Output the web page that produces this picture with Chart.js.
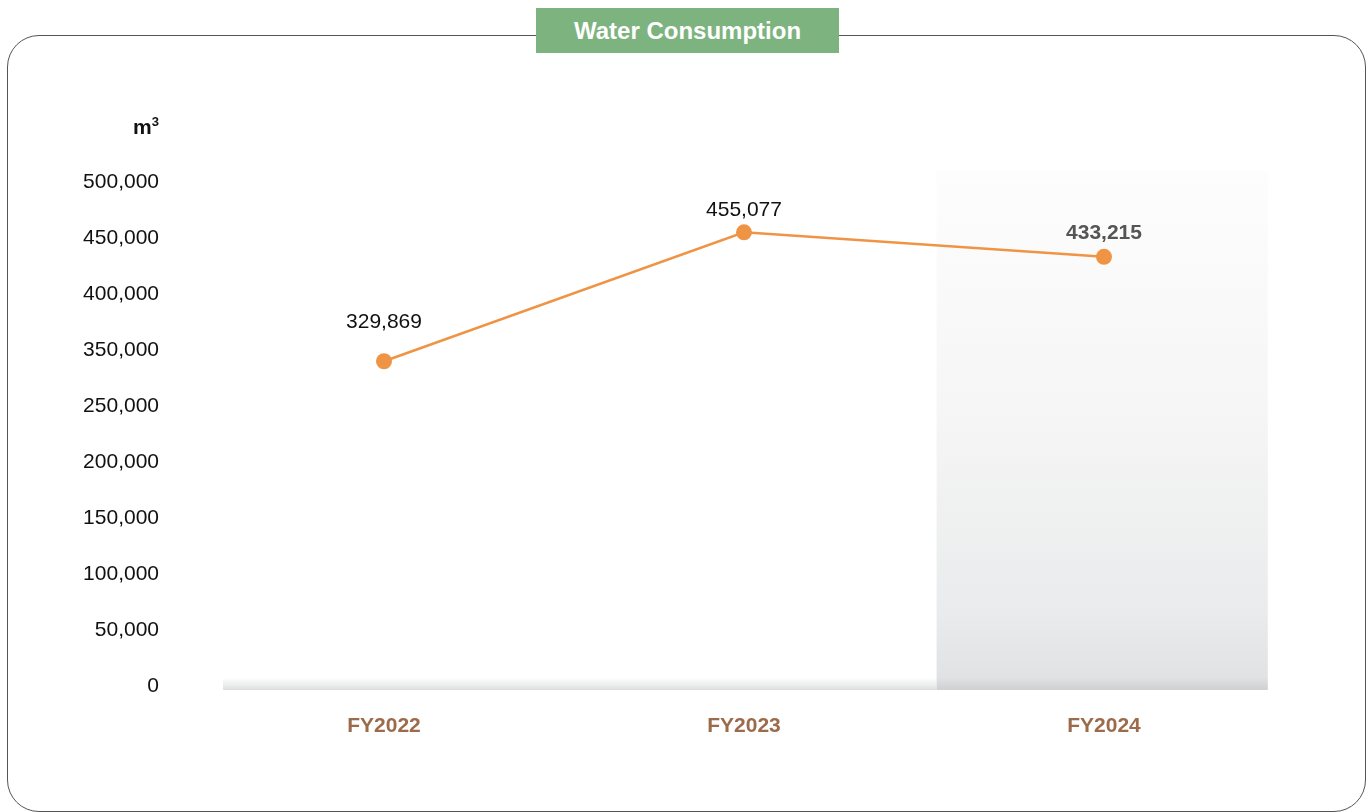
<!DOCTYPE html>
<html>
<head>
<meta charset="utf-8">
<script src="https://cdn.jsdelivr.net/npm/chart.js@4.4.1/dist/chart.umd.min.js"></script>
<style>
  html, body { margin: 0; padding: 0; background: #fff; }
  body { width: 1370px; height: 812px; position: relative; overflow: hidden; font-family: "Liberation Sans", Arial, Helvetica, sans-serif; }
  .frame { position: absolute; left: 7px; top: 35px; width: 1357px; height: 775px; border: 1px solid #555; border-radius: 32px; }
  .title { position: absolute; left: 536px; top: 8px; width: 303px; height: 45px; background: #7db37e; color: #fff; font-weight: bold; font-size: 24px; line-height: 45px; text-align: center; }
  #chart { position: absolute; left: 0; top: 0; }
</style>
</head>
<body>
<div class="frame"></div>
<canvas id="chart" width="1370" height="812"></canvas>
<div class="title">Water Consumption</div>
<script>
// data
var categories = ["FY2022", "FY2023", "FY2024"];
var consumption = [329869, 455077, 433215];
// the source axis skips 300,000: 250k -> 350k is squeezed into one step
var yTickLabels = ["0", "50,000", "100,000", "150,000", "200,000", "250,000",
  "350,000", "400,000", "450,000", "500,000"];
var yUnit = "m";
var yUnitSup = "3";

// styles kept apart from data
var lineColor = "#ef9445";
var labelOffsets = [39, 22, 24];
var labelFonts = ["normal 21px", "normal 21px", "bold 21px"];
var labelColors = ["#111", "#111", "#555"];
var highlightIndex = 2;
var fontFamily = '"Liberation Sans", Arial, Helvetica, sans-serif';

// value -> position on the broken axis
function axisPos(v) {
  if (v <= 250000) return v;
  if (v <= 350000) return 250000 + (v - 250000) / 2;
  return v - 50000;
}

var backdrop = {
  id: "backdrop",
  beforeDatasetsDraw: function (chart) {
    var ctx = chart.ctx;
    var area = chart.chartArea;
    var x = chart.scales.x;
    var step = x.getPixelForValue(1) - x.getPixelForValue(0);
    var cx = x.getPixelForValue(highlightIndex);
    var left = cx - step * 0.465;
    var right = cx + step * 0.455;
    var top = area.top - 11;
    var bottom = area.bottom + 4;
    ctx.save();
    // baseline band
    var g = ctx.createLinearGradient(0, bottom - 12, 0, bottom);
    g.addColorStop(0, "rgba(230,231,232,0)");
    g.addColorStop(0.6, "#eceded");
    g.addColorStop(1, "#dcdddf");
    ctx.fillStyle = g;
    ctx.fillRect(area.left + 19, bottom - 12, left - area.left - 19, 12);
    // highlighted column
    var cg = ctx.createLinearGradient(0, top, 0, bottom);
    cg.addColorStop(0, "#fdfdfd");
    cg.addColorStop(0.45, "#f6f6f6");
    cg.addColorStop(0.85, "#eaebec");
    cg.addColorStop(0.975, "#e1e2e3");
    cg.addColorStop(1, "#cfd0d2");
    ctx.fillStyle = cg;
    ctx.fillRect(left, top, right - left, bottom - top);
    ctx.restore();
  },
  afterDatasetsDraw: function (chart) {
    var ctx = chart.ctx;
    var meta = chart.getDatasetMeta(0);
    ctx.save();
    ctx.textAlign = "center";
    ctx.textBaseline = "middle";
    meta.data.forEach(function (pt, i) {
      ctx.font = labelFonts[i] + " " + fontFamily;
      ctx.fillStyle = labelColors[i];
      ctx.fillText(consumption[i].toLocaleString("en-US"), pt.x, pt.y - labelOffsets[i]);
    });
    // unit label above the y axis
    var y = chart.scales.y;
    var rightEdge = y.right - 45;
    ctx.textAlign = "right";
    ctx.fillStyle = "#111";
    ctx.font = "bold 13px " + fontFamily;
    var supW = ctx.measureText(yUnitSup).width;
    ctx.fillText(yUnitSup, rightEdge, y.top - 60);
    ctx.font = "bold 21px " + fontFamily;
    ctx.fillText(yUnit, rightEdge - supW, y.top - 54);
    ctx.restore();
  },
};

new Chart(document.getElementById("chart"), {
  type: "line",
  data: {
    labels: categories,
    datasets: [
      {
        data: consumption.map(axisPos),
        borderColor: lineColor,
        backgroundColor: lineColor,
        borderWidth: 2.5,
        pointRadius: 8,
        pointBorderWidth: 0,
        pointBackgroundColor: lineColor,
        tension: 0,
      },
    ],
  },
  options: {
    responsive: false,
    animation: false,
    layout: { padding: { top: 182, right: 86, left: 0, bottom: 0 } },
    plugins: { legend: { display: false }, tooltip: { enabled: false } },
    scales: {
      x: {
        offset: true,
        grid: { display: false, drawTicks: false },
        border: { display: false },
        ticks: {
          color: "#9c6b4b",
          font: { family: fontFamily, size: 21, weight: "bold" },
          padding: 28,
        },
        afterFit: function (s) { s.height = 126; },
      },
      y: {
        min: 0,
        max: 450000,
        grid: { display: false, drawTicks: false },
        border: { display: false },
        ticks: {
          stepSize: 50000,
          color: "#111",
          padding: 45,
          font: { family: fontFamily, size: 21 },
          callback: function (v) { return yTickLabels[Math.round(v / 50000)]; },
        },
        afterFit: function (s) { s.width = 204; },
      },
    },
  },
  plugins: [backdrop],
});
</script>
</body>
</html>
